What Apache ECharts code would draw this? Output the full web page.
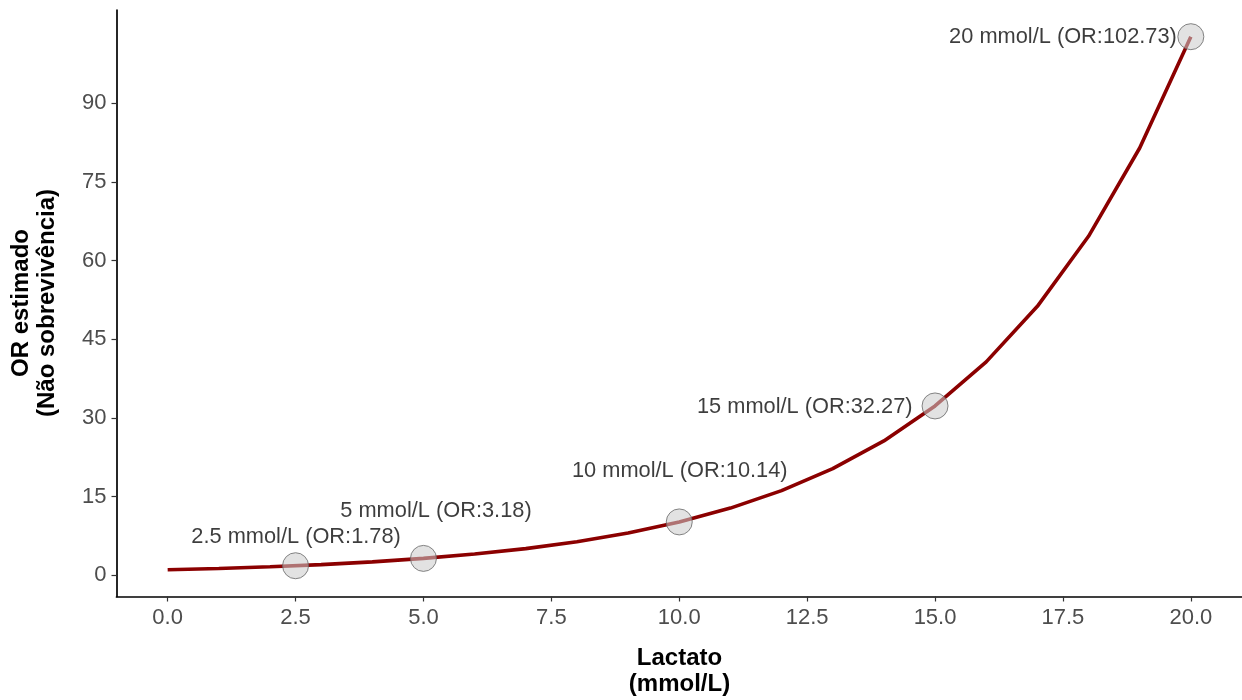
<!DOCTYPE html>
<html>
<head>
<meta charset="utf-8">
<script src="https://cdn.jsdelivr.net/npm/echarts@6/dist/echarts.min.js"></script>
<style>
  html, body { margin: 0; padding: 0; background: #fff; }
  #chart { width: 1242px; height: 700px; }
</style>
</head>
<body>
<div id="chart"></div>
<script>
// Estimated odds ratio of non-survival along lactate (mmol/L)
const lactato = [0, 1, 2, 3, 4, 5, 6, 7, 8, 9, 10, 11, 12, 13, 14, 15, 16, 17, 18, 19, 20];
const orCurve = [1.00, 1.26, 1.59, 2.00, 2.52, 3.18, 4.01, 5.05, 6.37, 8.03, 10.14,
                 12.78, 16.11, 20.31, 25.60, 32.27, 40.68, 51.28, 64.64, 81.49, 102.73];

// Highlighted lactate levels
const markLactato = [2.5, 5, 10, 15, 20];
const markOR = [1.78, 3.18, 10.14, 32.27, 102.73];

// Axis ticks
const xTicks = [0, 2.5, 5, 7.5, 10, 12.5, 15, 17.5, 20];
const yTicks = [0, 15, 30, 45, 60, 75, 90];

const xTitle = 'Lactato\n(mmol/L)';
const yTitle = 'OR estimado\n(Não sobrevivência)';

// label placement relative to each highlighted point
const labelPlacement = [
  { align: 'center', offset: [0.5, -28.5] },
  { align: 'center', offset: [12.5, -47.5] },
  { align: 'center', offset: [0.5, -51] },
  { align: 'right', offset: [-22.5, 1] },
  { align: 'right', offset: [-14, 0] }
];

const FONT = '"Liberation Sans", Arial, sans-serif';
const LABEL_COLOR = '#0d0d0d';

const chart = echarts.init(document.getElementById('chart'), null, { renderer: 'canvas' });

const xMin = -1, xMax = 21;
const yMin = -4.09, yMax = 107.82;

chart.setOption({
  animation: false,
  backgroundColor: '#ffffff',
  grid: {
    left: 116.5, right: 0, top: 10, bottom: 103.5,
    containLabel: false,
    outerBoundsMode: 'none'
  },
  xAxis: {
    type: 'value',
    min: xMin, max: xMax,
    splitLine: { show: false },
    axisLine: { show: true, onZero: false, lineStyle: { color: '#000', width: 1.7 } },
    axisTick: { show: true, customValues: xTicks, length: 5, lineStyle: { color: '#333', width: 1.2 } },
    axisLabel: {
      customValues: xTicks,
      margin: 10,
      color: '#4d4d4d',
      fontFamily: FONT,
      fontSize: 22,
      formatter: v => Number(v).toFixed(1)
    }
  },
  yAxis: {
    type: 'value',
    min: yMin, max: yMax,
    splitLine: { show: false },
    axisLine: { show: true, onZero: false, lineStyle: { color: '#000', width: 1.7 } },
    axisTick: { show: true, customValues: yTicks, length: 5, lineStyle: { color: '#333', width: 1.2 } },
    axisLabel: {
      customValues: yTicks,
      margin: 10,
      color: '#4d4d4d',
      fontFamily: FONT,
      fontSize: 22
    }
  },
  graphic: [
    {
      type: 'text',
      x: 679.5, y: 671,
      style: {
        text: xTitle,
        font: 'bold 24px ' + FONT,
        fill: '#000',
        align: 'center',
        verticalAlign: 'middle',
        lineHeight: 26
      }
    },
    {
      type: 'text',
      x: 34.5, y: 303,
      rotation: Math.PI / 2,
      style: {
        text: yTitle,
        font: 'bold 24px ' + FONT,
        fill: '#000',
        align: 'center',
        verticalAlign: 'middle',
        lineHeight: 26
      }
    }
  ],
  series: [
    {
      type: 'line',
      data: lactato.map((x, i) => [x, orCurve[i]]),
      showSymbol: false,
      symbol: 'none',
      smooth: false,
      lineStyle: { color: '#8b0000', width: 3.6 },
      z: 2
    },
    {
      type: 'scatter',
      data: markLactato.map((x, i) => ({
        value: [x, markOR[i]],
        label: {
          show: true,
          position: 'inside',
          color: LABEL_COLOR,
          align: labelPlacement[i].align,
          verticalAlign: 'middle',
          offset: labelPlacement[i].offset
        }
      })),
      symbol: 'circle',
      symbolSize: 26,
      itemStyle: {
        color: 'rgba(204,204,204,0.7)',
        borderColor: '#666666',
        borderWidth: 1
      },
      label: {
        show: true,
        color: LABEL_COLOR,
        fontFamily: FONT,
        fontSize: 21.8,
        formatter: p => p.value[0] + ' mmol/L (OR:' + p.value[1].toFixed(2) + ')'
      },
      emphasis: { disabled: true },
      z: 3
    }
  ]
});
</script>
</body>
</html>
